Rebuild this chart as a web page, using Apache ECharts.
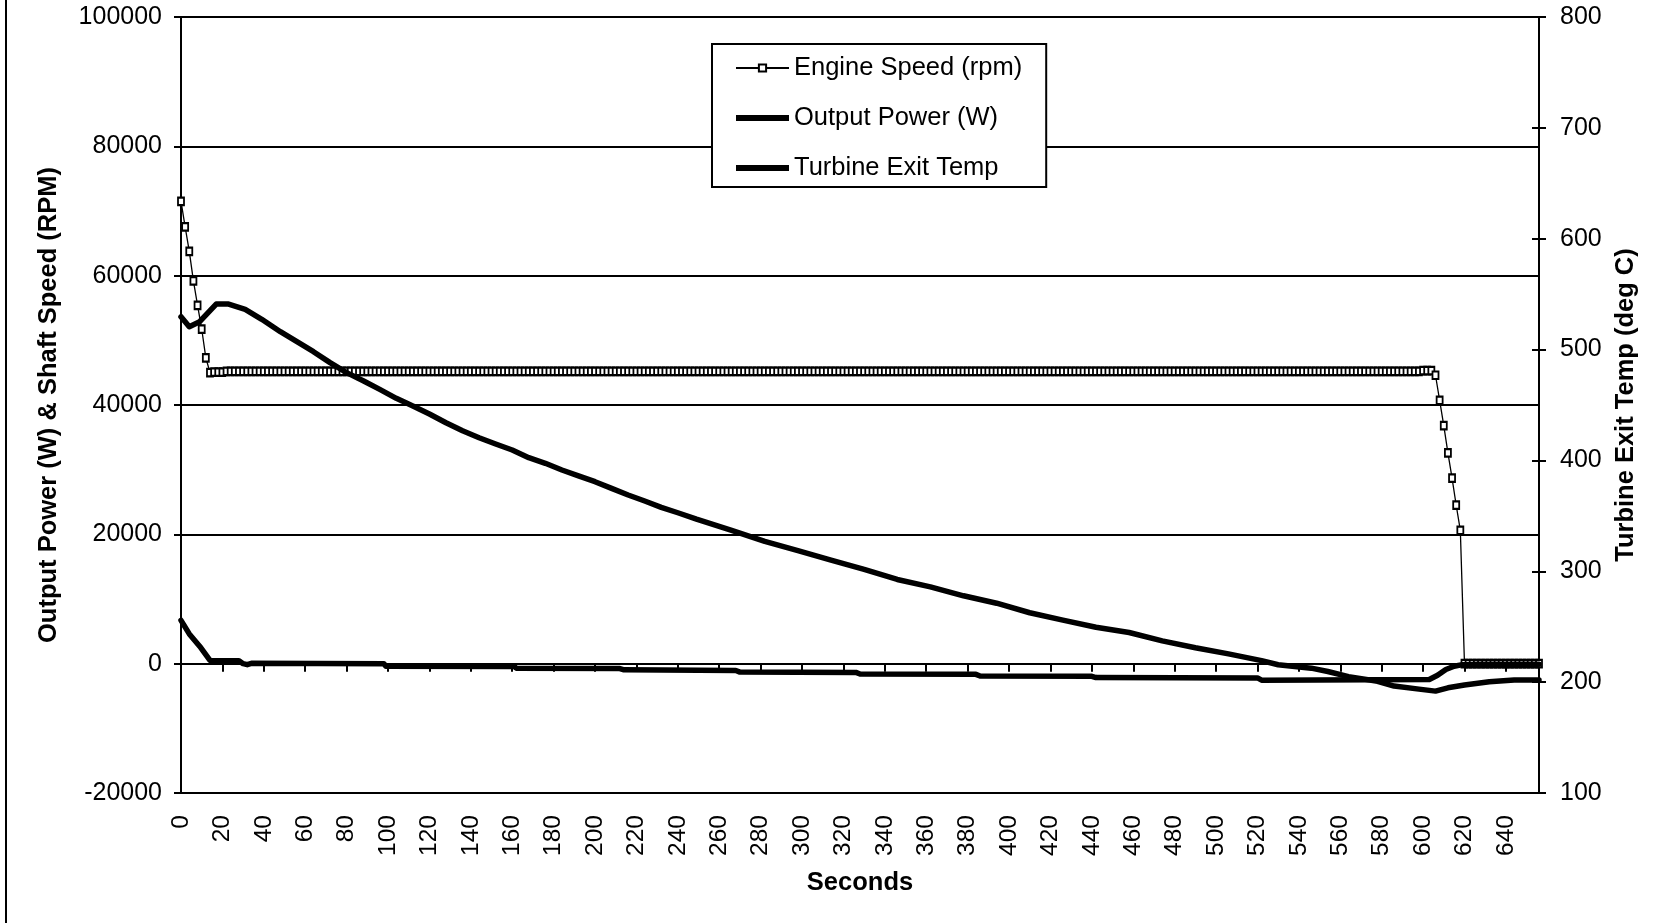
<!DOCTYPE html>
<html>
<head>
<meta charset="utf-8">
<script src="https://cdn.jsdelivr.net/npm/echarts@6/dist/echarts.min.js"></script>
<style>
  html, body { margin: 0; padding: 0; background: #fff; }
  #chart { width: 1665px; height: 923px; }
</style>
</head>
<body>
<div id="chart"></div>
<script>
// ---------------- DATA ----------------
// Engine speed (rpm), logged every 2 s starting at t = 0 s
const SAMPLE_STEP_S = 2;
const engineSpeed = [
  // 0 - 14 s : spool-down from start
  71500, 67550, 63750, 59200, 55400, 51750, 47300, 45000,
  // 16 - 604 s : governed speed (10 samples per row)
  45100, 45100, 45100, 45200, 45200, 45200, 45200, 45200, 45200, 45200,
  45200, 45200, 45200, 45200, 45200, 45200, 45200, 45200, 45200, 45200,
  45200, 45200, 45200, 45200, 45200, 45200, 45200, 45200, 45200, 45200,
  45200, 45200, 45200, 45200, 45200, 45200, 45200, 45200, 45200, 45200,
  45200, 45200, 45200, 45200, 45200, 45200, 45200, 45200, 45200, 45200,
  45200, 45200, 45200, 45200, 45200, 45200, 45200, 45200, 45200, 45200,
  45200, 45200, 45200, 45200, 45200, 45200, 45200, 45200, 45200, 45200,
  45200, 45200, 45200, 45200, 45200, 45200, 45200, 45200, 45200, 45200,
  45200, 45200, 45200, 45200, 45200, 45200, 45200, 45200, 45200, 45200,
  45200, 45200, 45200, 45200, 45200, 45200, 45200, 45200, 45200, 45200,
  45200, 45200, 45200, 45200, 45200, 45200, 45200, 45200, 45200, 45200,
  45200, 45200, 45200, 45200, 45200, 45200, 45200, 45200, 45200, 45200,
  45200, 45200, 45200, 45200, 45200, 45200, 45200, 45200, 45200, 45200,
  45200, 45200, 45200, 45200, 45200, 45200, 45200, 45200, 45200, 45200,
  45200, 45200, 45200, 45200, 45200, 45200, 45200, 45200, 45200, 45200,
  45200, 45200, 45200, 45200, 45200, 45200, 45200, 45200, 45200, 45200,
  45200, 45200, 45200, 45200, 45200, 45200, 45200, 45200, 45200, 45200,
  45200, 45200, 45200, 45200, 45200, 45200, 45200, 45200, 45200, 45200,
  45200, 45200, 45200, 45200, 45200, 45200, 45200, 45200, 45200, 45200,
  45200, 45200, 45200, 45200, 45200, 45200, 45200, 45200, 45200, 45200,
  45200, 45200, 45200, 45200, 45200, 45200, 45200, 45200, 45200, 45200,
  45200, 45200, 45200, 45200, 45200, 45200, 45200, 45200, 45200, 45200,
  45200, 45200, 45200, 45200, 45200, 45200, 45200, 45200, 45200, 45200,
  45200, 45200, 45200, 45200, 45200, 45200, 45200, 45200, 45200, 45200,
  45200, 45200, 45200, 45200, 45200, 45200, 45200, 45200, 45200, 45200,
  45200, 45200, 45200, 45200, 45200, 45200, 45200, 45200, 45200, 45200,
  45200, 45200, 45200, 45200, 45200, 45200, 45200, 45200, 45200, 45200,
  45200, 45200, 45200, 45200, 45200, 45200, 45200, 45200, 45200, 45200,
  45200, 45200, 45200, 45200, 45200, 45200, 45200, 45200, 45200, 45200,
  45200, 45200, 45300, 45300, 45300,
  // 606 - 618 s : shutdown
  44600, 40700, 36800, 32600, 28700, 24500, 20600,
  // 620 - 656 s : stopped
  0, 0, 0, 0, 0, 0, 0, 0, 0, 0,
  0, 0, 0, 0, 0, 0, 0, 0, 0
];

// Output power (W): time (s) / value pairs
const powerTimes  = [0, 4, 9, 14, 28, 30, 32, 34, 98, 99, 161, 162, 212, 214, 268, 270, 326, 328, 384, 386, 440, 442, 520, 522, 603, 607, 611, 615, 619, 626, 656];
const powerValues = [6700, 4600, 2700, 500, 450, 0, -150, 50, 0, -400, -450, -700, -750, -950, -1050, -1300, -1350, -1600, -1650, -1900, -1950, -2150, -2200, -2550, -2450, -1800, -900, -400, -150, -100, -100];

// Turbine exit temperature (deg C): time (s) / value pairs
const tempTimes  = [0, 4, 9, 17, 23, 31, 39, 48, 56, 64, 72, 80, 88, 96, 104, 112, 120, 128, 136, 144, 152, 160, 168, 176, 184, 192, 200, 208, 216, 224, 232, 240, 249, 266, 282, 298, 314, 330, 346, 362, 378, 394, 410, 426, 442, 458, 474, 490, 506, 522, 530, 546, 554, 564, 578, 586, 598, 606, 612, 620, 632, 644, 656];
const tempValues = [529.6, 520.6, 525.1, 541.1, 541.1, 536.3, 527.3, 516.1, 507.1, 498.1, 488.2, 479.2, 471.9, 464.1, 456.0, 449.1, 441.9, 434.0, 426.8, 420.5, 414.8, 409.4, 402.5, 397.4, 391.4, 386.0, 380.8, 374.8, 368.8, 363.4, 357.7, 352.8, 347.0, 336.9, 326.9, 318.6, 310.1, 301.8, 292.6, 285.9, 277.9, 271.2, 262.6, 255.9, 249.5, 244.8, 237.2, 231.0, 225.5, 219.4, 215.7, 212.6, 209.6, 205.0, 200.8, 196.5, 193.7, 191.9, 194.9, 197.4, 200.4, 201.9, 201.9];

// Axis ranges / labels
const xRange = { min: 0, max: 656, step: 20 };
const leftRange = { min: -20000, max: 100000, step: 20000 };
const rightRange = { min: 100, max: 800, step: 100 };
const seriesNames = ['Engine Speed (rpm)', 'Output Power (W)', 'Turbine Exit Temp'];
const xTitle = 'Seconds';
const leftTitle = 'Output Power (W) & Shaft Speed (RPM)';
const rightTitle = 'Turbine Exit Temp (deg C)';

// ---------------- CHART ----------------
const FONT = '"Liberation Sans", Arial, Helvetica, sans-serif';
const speedData = engineSpeed.map((v, i) => [i * SAMPLE_STEP_S, v]);
const powerData = powerTimes.map((t, i) => [t, powerValues[i]]);
const tempData = tempTimes.map((t, i) => [t, tempValues[i]]);

const chart = echarts.init(document.getElementById('chart'), null, { renderer: 'canvas' });
const thickIcon = 'path://M0,0H100V11H0Z';

chart.setOption({
  animation: false,
  backgroundColor: '#fff',
  textStyle: { fontFamily: FONT, color: '#000' },
  grid: { left: 181, right: 126, top: 17, bottom: 130, containLabel: false },
  graphic: [{
    type: 'line',
    shape: { x1: 6, y1: 0, x2: 6, y2: 923 },
    style: { stroke: '#000', lineWidth: 2 },
    silent: true
  }],
  legend: {
    orient: 'vertical',
    left: 712, top: 44,
    padding: [11, 24, 6, 23],
    itemGap: 24,
    itemWidth: 53,
    itemHeight: 9,
    borderColor: '#000',
    borderWidth: 2,
    backgroundColor: '#fff',
    selectedMode: false,
    textStyle: { fontFamily: FONT, fontSize: 25.5, color: '#000' },
    data: [
      { name: seriesNames[0] },
      { name: seriesNames[1], icon: thickIcon },
      { name: seriesNames[2], icon: thickIcon }
    ]
  },
  xAxis: {
    type: 'value',
    min: xRange.min, max: xRange.max, interval: xRange.step,
    name: xTitle, nameLocation: 'middle', nameGap: 77,
    nameTextStyle: { fontFamily: FONT, fontSize: 25.5, fontWeight: 'bold', color: '#000' },
    axisLine: { show: true, lineStyle: { color: '#000', width: 2 } },
    axisTick: { show: true, length: 8, lineStyle: { color: '#000', width: 2 } },
    axisLabel: { rotate: 90, margin: 22, fontSize: 24.5, fontFamily: FONT, color: '#000', showMaxLabel: false },
    splitLine: { show: false }
  },
  yAxis: [
    {
      type: 'value', position: 'left',
      min: leftRange.min, max: leftRange.max, interval: leftRange.step,
      name: leftTitle, nameLocation: 'middle', nameRotate: 90, nameGap: 119,
      nameTextStyle: { fontFamily: FONT, fontSize: 25.5, fontWeight: 'bold', color: '#000' },
      axisLine: { show: true, lineStyle: { color: '#000', width: 2 } },
      axisTick: { show: true, length: 7, lineStyle: { color: '#000', width: 2 } },
      axisLabel: { margin: 19, fontSize: 25, fontFamily: FONT, color: '#000', formatter: v => String(v) },
      splitLine: { show: true, lineStyle: { color: '#000', width: 2 } }
    },
    {
      type: 'value', position: 'right',
      min: rightRange.min, max: rightRange.max, interval: rightRange.step,
      name: rightTitle, nameLocation: 'middle', nameRotate: 90, nameGap: 74,
      nameTextStyle: { fontFamily: FONT, fontSize: 25.5, fontWeight: 'bold', color: '#000' },
      axisLine: { show: true, lineStyle: { color: '#000', width: 2 } },
      axisTick: { show: true, length: 7, lineStyle: { color: '#000', width: 2 } },
      axisLabel: { margin: 21, fontSize: 25, fontFamily: FONT, color: '#000', formatter: v => String(v) },
      splitLine: { show: false }
    },
    {
      type: 'value', position: 'right',
      min: rightRange.min, max: rightRange.max, interval: rightRange.step,
      axisLine: { show: false },
      axisTick: { show: true, inside: true, length: 7, lineStyle: { color: '#000', width: 2 } },
      axisLabel: { show: false },
      splitLine: { show: false }
    }
  ],
  series: [
    {
      name: seriesNames[0], type: 'line', yAxisIndex: 0,
      data: speedData,
      symbol: 'rect', symbolSize: [6, 7.5], showAllSymbol: true,
      itemStyle: { color: '#fff', borderColor: '#000', borderWidth: 2 },
      lineStyle: { color: '#000', width: 1.3 },
      z: 2
    },
    {
      name: seriesNames[1], type: 'line', yAxisIndex: 0,
      data: powerData,
      symbol: 'none',
      itemStyle: { color: '#000' },
      lineStyle: { color: '#000', width: 5.5, cap: 'round', join: 'round' },
      z: 3
    },
    {
      name: seriesNames[2], type: 'line', yAxisIndex: 1,
      data: tempData,
      symbol: 'none',
      itemStyle: { color: '#000' },
      lineStyle: { color: '#000', width: 5.5, cap: 'round', join: 'round' },
      z: 4
    }
  ]
});
</script>
</body>
</html>
